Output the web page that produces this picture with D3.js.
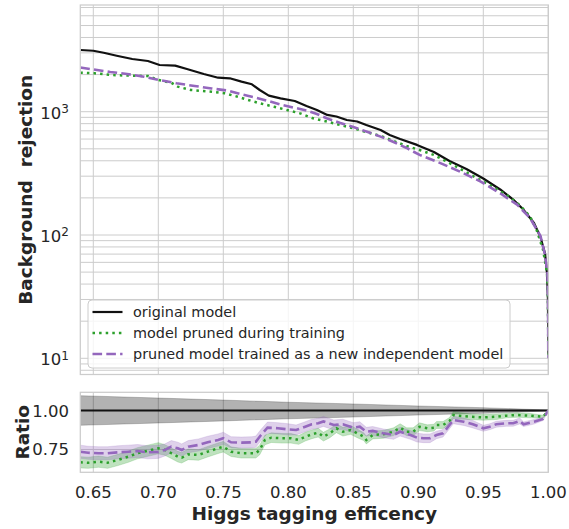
<!DOCTYPE html>
<html><head><meta charset="utf-8">
<script src="https://cdn.jsdelivr.net/npm/d3@7"></script>
<style>
body{margin:0;background:#fff}
text{font-family:"DejaVu Sans",sans-serif;fill:#262626}
</style>
</head><body>
<svg id="c" width="569" height="529"></svg>
<script>
// ---------- data ----------
const xTickValues = [0.65,0.70,0.75,0.80,0.85,0.90,0.95,1.00];
const xTickLabels = ["0.65","0.70","0.75","0.80","0.85","0.90","0.95","1.00"];
const yTopTickValues = [10,100,1000];
const yTopTickExp = ["1","2","3"];
const yRatioTickValues = [0.75,1.00];
const yRatioTickLabels = ["0.75","1.00"];
const seriesNames = ["original model","model pruned during training","pruned model trained as a new independent model"];

const effOriginal = [0.640,0.650,0.658,0.668,0.680,0.692,0.701,0.713,0.722,0.735,0.746,0.755,0.764,0.772,0.778,0.785,0.794,0.805,0.814,0.822,0.830,0.837,0.845,0.853,0.860,0.871,0.878,0.886,0.899,0.912,0.924,0.937,0.950,0.963,0.973,0.981,0.989,0.994,0.9975,0.999,0.9997,0.9999,1.000];
const rejOriginal = [3164,3122,3009,2845,2676,2577,2392,2362,2220,2022,1887,1866,1752,1669,1500,1349,1284,1221,1113,1032,941,915,856,833,780,710,648,601,538,471,398,343,287,234,194,160,125,96,70.7,49.2,30.6,17.1,10.1];

const effPrunedTrain = [0.640,0.651,0.664,0.679,0.692,0.700,0.710,0.715,0.725,0.741,0.751,0.761,0.771,0.778,0.789,0.799,0.809,0.819,0.830,0.840,0.850,0.860,0.871,0.881,0.891,0.901,0.912,0.927,0.942,0.955,0.968,0.978,0.986,0.991,0.996,0.999,0.9997,0.9999,1.000];
const rejPrunedTrain = [2072,2049,1985,1959,1948,1807,1719,1595,1500,1453,1410,1323,1228,1170,1098,1032,970,884,830,780,734,684,636,579,527,489,446,369,301,254,211,175,141,110,75.6,49.2,30.6,17.1,10.0];

const effPrunedNew = [0.640,0.650,0.663,0.676,0.689,0.701,0.714,0.728,0.741,0.753,0.763,0.773,0.783,0.794,0.804,0.814,0.822,0.830,0.840,0.850,0.860,0.871,0.881,0.891,0.901,0.917,0.932,0.948,0.963,0.976,0.986,0.994,0.9975,0.9993,0.9998,0.9999,1.000];
const rejPrunedNew = [2283,2200,2099,2022,1922,1807,1699,1617,1543,1486,1391,1316,1233,1144,1081,1023,958,881,810,752,691,628,568,508,446,383,327,271,218,176.5,137,98,68.7,49.2,30.6,17.1,10.0];

// ratio panel
const effBand = [0.64,0.70,0.75,0.80,0.85,0.90,0.95,1.00];
const ratioOriginal = [1,1,1,1,1,1,1,1];
const errOriginal = [0.095,0.080,0.067,0.053,0.042,0.029,0.018,0.003];

const effRatioTrain = [0.640,0.646,0.654,0.661,0.669,0.677,0.684,0.692,0.700,0.705,0.710,0.715,0.718,0.723,0.731,0.738,0.746,0.750,0.756,0.764,0.772,0.775,0.778,0.782,0.787,0.795,0.802,0.808,0.813,0.818,0.823,0.827,0.832,0.837,0.842,0.848,0.853,0.858,0.860,0.865,0.873,0.881,0.886,0.891,0.896,0.901,0.907,0.912,0.914,0.919,0.924,0.927,0.930,0.940,0.950,0.960,0.968,0.976,0.986,0.996,1.000];
const ratioTrain = [0.668,0.665,0.672,0.665,0.683,0.704,0.726,0.742,0.758,0.747,0.726,0.704,0.697,0.719,0.715,0.736,0.758,0.768,0.736,0.726,0.726,0.726,0.747,0.811,0.826,0.822,0.822,0.811,0.832,0.847,0.858,0.832,0.854,0.886,0.864,0.875,0.854,0.832,0.811,0.843,0.847,0.864,0.890,0.864,0.864,0.896,0.886,0.890,0.907,0.907,0.933,0.971,0.967,0.960,0.956,0.960,0.967,0.971,0.967,0.960,1.000];
const errTrain = [0.036,0.036,0.036,0.036,0.036,0.036,0.036,0.036,0.036,
  0.034,0.034,0.034,0.034,0.034,0.034,0.034,0.034,0.034,
  0.031,0.031,0.031,0.031,0.031,0.031,0.031,0.031,0.031,
  0.028,0.028,0.028,0.028,0.028,0.028,0.028,0.028,0.028,0.028,
  0.025,0.025,0.025,0.025,0.025,0.025,0.025,0.025,0.025,
  0.022,0.022,0.022,0.022,0.022,0.022,0.022,
  0.018,0.018,0.018,0.014,0.014,0.014,0.010,0.003];

const effRatioNew = [0.640,0.646,0.654,0.661,0.669,0.677,0.684,0.692,0.700,0.705,0.710,0.715,0.718,0.723,0.731,0.738,0.746,0.750,0.756,0.764,0.772,0.775,0.779,0.784,0.792,0.800,0.806,0.813,0.818,0.823,0.827,0.835,0.842,0.850,0.855,0.860,0.865,0.873,0.881,0.886,0.894,0.899,0.904,0.909,0.914,0.919,0.924,0.927,0.935,0.942,0.950,0.955,0.960,0.968,0.973,0.978,0.981,0.989,0.996,1.000];
const ratioNew = [0.736,0.729,0.726,0.726,0.732,0.736,0.740,0.732,0.735,0.747,0.768,0.758,0.747,0.768,0.779,0.796,0.811,0.822,0.796,0.794,0.796,0.800,0.843,0.890,0.886,0.879,0.875,0.896,0.912,0.918,0.930,0.907,0.912,0.890,0.896,0.864,0.869,0.854,0.843,0.864,0.843,0.826,0.822,0.822,0.843,0.854,0.907,0.939,0.928,0.912,0.886,0.896,0.912,0.918,0.918,0.933,0.912,0.928,0.946,1.000];
const errNew = [0.042,0.042,0.042,0.042,0.042,0.042,0.042,0.042,0.042,
  0.039,0.039,0.039,0.039,0.039,0.039,0.039,0.039,0.039,
  0.036,0.036,0.036,0.036,0.036,0.036,0.036,0.036,
  0.032,0.032,0.032,0.032,0.032,0.032,0.032,0.032,0.032,
  0.028,0.028,0.028,0.028,0.028,0.028,0.028,0.028,0.028,
  0.024,0.024,0.024,0.024,0.024,0.024,
  0.019,0.019,0.019,0.019,0.019,0.019,
  0.015,0.015,0.010,0.003];

// ---------- style ----------
const colBlack = "#111111", colGreen = "#2ca02c", colPurple = "#9467bd";
const gridCol = "#cccccc";

// ---------- layout ----------
const L = 80.3, R = 548.3;
const topT = 5, topB = 374.5;
const ratT = 392.3, ratB = 472.3;

const svg = d3.select("#c");
const x = d3.scaleLinear([0.64, 1.0], [L, R]);
const yTop = d3.scaleLog([7.39, 7335], [topB, topT]);
const yRat = d3.scaleLinear([0.6038, 1.1167], [ratB, ratT]);

const defs = svg.append("defs");
defs.append("clipPath").attr("id","clipTop").append("rect").attr("x",L).attr("y",topT).attr("width",R-L).attr("height",topB-topT);
defs.append("clipPath").attr("id","clipRat").append("rect").attr("x",L).attr("y",ratT).attr("width",R-L).attr("height",ratB-ratT);

// ---------- top panel ----------
const gTop = svg.append("g");
const logTicks = yTop.ticks(30).filter(v => v >= yTop.domain()[0] && v <= yTop.domain()[1]);
gTop.append("g").selectAll("line").data(logTicks).join("line")
  .attr("x1",L).attr("x2",R).attr("y1",d=>yTop(d)).attr("y2",d=>yTop(d))
  .attr("stroke",gridCol).attr("stroke-width",1);
gTop.append("g").selectAll("line").data(xTickValues).join("line")
  .attr("x1",d=>x(d)).attr("x2",d=>x(d)).attr("y1",topT).attr("y2",topB)
  .attr("stroke",gridCol).attr("stroke-width",1);

const lineTop = (xs, ys) => d3.line().x((d,i)=>x(xs[i])).y((d,i)=>yTop(ys[i]))(xs);
const cTop = gTop.append("g").attr("clip-path","url(#clipTop)");
cTop.append("path").attr("d", lineTop(effOriginal, rejOriginal))
  .attr("fill","none").attr("stroke",colBlack).attr("stroke-width",2.2).attr("stroke-linejoin","round");
cTop.append("path").attr("d", lineTop(effPrunedTrain, rejPrunedTrain))
  .attr("fill","none").attr("stroke",colGreen).attr("stroke-width",2.5).attr("stroke-dasharray","2.5,4.1");
cTop.append("path").attr("d", lineTop(effPrunedNew, rejPrunedNew))
  .attr("fill","none").attr("stroke",colPurple).attr("stroke-width",2.6).attr("stroke-dasharray","9.6,4.2");

gTop.append("rect").attr("x",L).attr("y",topT).attr("width",R-L).attr("height",topB-topT)
  .attr("fill","none").attr("stroke",gridCol).attr("stroke-width",1.25);

const yl = gTop.append("g").selectAll("text").data(yTopTickValues).join("text")
  .attr("x",69).attr("y",d=>yTop(d)+6.8).attr("text-anchor","end").attr("font-size",16.5);
yl.append("tspan").text("10");
yl.append("tspan").attr("dy",-5.5).attr("font-size",12).text((d,i)=>yTopTickExp[i]);

// legend
const lg = gTop.append("g");
lg.append("rect").attr("x",88).attr("y",300).attr("width",422).attr("height",68).attr("rx",4)
  .attr("fill","#ffffff").attr("fill-opacity",0.8).attr("stroke",gridCol).attr("stroke-width",1);
const legStyles = [
  {c:colBlack, w:2.2, dash:null},
  {c:colGreen, w:2.5, dash:"2.5,4.1"},
  {c:colPurple, w:2.6, dash:"9.6,4.2"}
];
seriesNames.forEach((n,i)=>{
  const yy = 312 + i*21;
  const ln = lg.append("line").attr("x1",92.5).attr("x2",122.5).attr("y1",yy).attr("y2",yy)
    .attr("stroke",legStyles[i].c).attr("stroke-width",legStyles[i].w);
  if (legStyles[i].dash) ln.attr("stroke-dasharray",legStyles[i].dash);
  lg.append("text").attr("x",133).attr("y",yy+5).attr("font-size",14.4).text(n);
});

svg.append("text").attr("transform",`translate(31.5,${(topT+topB)/2}) rotate(-90)`)
  .attr("text-anchor","middle").attr("font-size",18.5).attr("font-weight","bold")
  .style("white-space","pre").text("Background  rejection");

// ---------- ratio panel ----------
const gR = svg.append("g");
gR.append("g").selectAll("line").data(yRatioTickValues).join("line")
  .attr("x1",L).attr("x2",R).attr("y1",d=>yRat(d)).attr("y2",d=>yRat(d))
  .attr("stroke",gridCol).attr("stroke-width",1);
gR.append("g").selectAll("line").data(xTickValues).join("line")
  .attr("x1",d=>x(d)).attr("x2",d=>x(d)).attr("y1",ratT).attr("y2",ratB)
  .attr("stroke",gridCol).attr("stroke-width",1);

const cR = gR.append("g").attr("clip-path","url(#clipRat)");
const band = (xs, ys, es) => d3.area().x((d,i)=>x(xs[i])).y0((d,i)=>yRat(ys[i]-es[i])).y1((d,i)=>yRat(ys[i]+es[i]))(xs);
const lineR = (xs, ys) => d3.line().x((d,i)=>x(xs[i])).y((d,i)=>yRat(ys[i]))(xs);

cR.append("path").attr("d", band(effBand, ratioOriginal, errOriginal))
  .attr("fill","#000").attr("fill-opacity",0.3).attr("stroke","#000").attr("stroke-opacity",0.2).attr("stroke-width",1);
cR.append("path").attr("d", band(effRatioTrain, ratioTrain, errTrain))
  .attr("fill",colGreen).attr("fill-opacity",0.3).attr("stroke",colGreen).attr("stroke-opacity",0.2).attr("stroke-width",1);
cR.append("path").attr("d", band(effRatioNew, ratioNew, errNew))
  .attr("fill",colPurple).attr("fill-opacity",0.3).attr("stroke",colPurple).attr("stroke-opacity",0.2).attr("stroke-width",1);

cR.append("path").attr("d", lineR(effBand, ratioOriginal))
  .attr("fill","none").attr("stroke",colBlack).attr("stroke-width",2.2);
cR.append("path").attr("d", lineR(effRatioTrain, ratioTrain))
  .attr("fill","none").attr("stroke",colGreen).attr("stroke-width",2.5).attr("stroke-dasharray","2.5,4.1");
cR.append("path").attr("d", lineR(effRatioNew, ratioNew))
  .attr("fill","none").attr("stroke",colPurple).attr("stroke-width",2.6).attr("stroke-dasharray","9.6,4.2");

gR.append("rect").attr("x",L).attr("y",ratT).attr("width",R-L).attr("height",ratB-ratT)
  .attr("fill","none").attr("stroke",gridCol).attr("stroke-width",1.25);

gR.append("g").selectAll("text").data(yRatioTickValues).join("text")
  .attr("x",69).attr("y",d=>yRat(d)+6).attr("text-anchor","end").attr("font-size",16.5)
  .text((d,i)=>yRatioTickLabels[i]);
gR.append("g").selectAll("text").data(xTickValues).join("text")
  .attr("x",d=>x(d)).attr("y",498).attr("text-anchor","middle").attr("font-size",16.5)
  .text((d,i)=>xTickLabels[i]);

svg.append("text").attr("transform",`translate(28.5,${(ratT+ratB)/2}) rotate(-90)`)
  .attr("text-anchor","middle").attr("font-size",18.5).attr("font-weight","bold").text("Ratio");
svg.append("text").attr("x",(L+R)/2).attr("y",520).attr("text-anchor","middle")
  .attr("font-size",18.5).attr("font-weight","bold").text("Higgs tagging efficency");
</script>
</body></html>
